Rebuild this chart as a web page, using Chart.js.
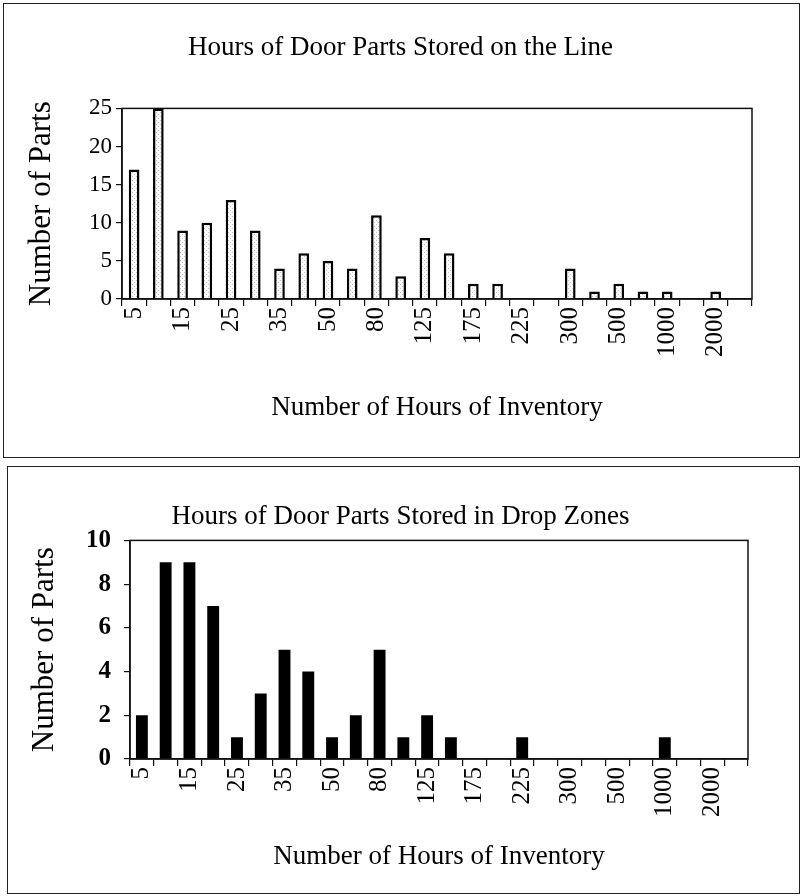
<!DOCTYPE html>
<html>
<head>
<meta charset="utf-8">
<script src="https://cdn.jsdelivr.net/npm/chart.js@4"></script>
<style>
  body { margin: 0; background: #fff; }
  .box { position: absolute; border: 1.5px solid #222; box-sizing: border-box; }
  canvas { position: absolute; left: 0; }
</style>
</head>
<body>
<div class="box" style="left:3px; top:3px; width:797px; height:455px;"></div>
<div class="box" style="left:7px; top:466px; width:793px; height:428px;"></div>
<canvas id="lineChart" width="801" height="457" style="top:0px;"></canvas>
<canvas id="dropChart" width="801" height="426" style="top:467px;"></canvas>
<script>
// histogram bins (hours of inventory); only every other one gets a label
const hourBins = ['5', '10', '15', '20', '25', '30', '35', '40', '50', '60', '80', '100', '125',
    '150', '175', '200', '225', '250', '300', '400', '500', '750', '1000', '1500', '2000', 'More'];
const lineParts = [17, 25, 9, 10, 13, 9, 4, 6, 5, 4, 11, 3, 8, 6, 2, 2, 0, 0, 4, 1, 2, 1, 1, 0, 1, 0];
const dropParts = [2, 9, 9, 7, 1, 3, 5, 4, 1, 2, 5, 1, 2, 1, 0, 0, 1, 0, 0, 0, 0, 0, 1, 0, 0, 0];
const lineTicks = [0, 5, 10, 15, 20, 25];
const dropTicks = [0, 2, 4, 6, 8, 10];

const serif = 'Liberation Serif, Times New Roman, serif';

// light stippled fill like the scanned bars
function stipple() {
    const c = document.createElement('canvas');
    c.width = 4; c.height = 4;
    const g = c.getContext('2d');
    g.fillStyle = '#fdfdfd';
    g.fillRect(0, 0, 4, 4);
    g.fillStyle = '#c4c4c4';
    g.fillRect(0, 0, 1, 1);
    g.fillRect(2, 2, 1, 1);
    return g.createPattern(c, 'repeat');
}

const frame = {
    id: 'frame',
    afterDatasetsDraw(chart) {
        const a = chart.chartArea;
        const ctx = chart.ctx;
        ctx.save();
        ctx.strokeStyle = '#111';
        ctx.lineWidth = 1.5;
        ctx.strokeRect(a.left, a.top, a.right - a.left, a.bottom - a.top);
        ctx.restore();
    }
};

function makeChart(id, opts) {
    return new Chart(document.getElementById(id).getContext('2d'), {
        type: 'bar',
        data: {
            labels: hourBins,
            datasets: [{
                data: opts.data,
                backgroundColor: opts.fill,
                borderColor: '#000',
                borderWidth: opts.border,
                borderSkipped: 'bottom',
                barPercentage: opts.barPct,
                categoryPercentage: 1
            }]
        },
        options: {
            responsive: false,
            animation: false,
            layout: { padding: { left: opts.padSide, right: opts.padSide, top: 0, bottom: 0 } },
            plugins: {
                legend: { display: false },
                tooltip: { enabled: false },
                title: {
                    display: true,
                    text: opts.title,
                    color: '#000',
                    font: { family: serif, size: 27, weight: 'normal' },
                    padding: opts.titlePad
                }
            },
            scales: {
                x: {
                    afterFit: s => { s.height = opts.xHeight; },
                    grid: { offset: true, drawOnChartArea: false, tickLength: 7, color: '#111', lineWidth: 1.2 },
                    border: { color: '#111', width: 1.5 },
                    ticks: {
                        autoSkip: false,
                        maxRotation: 90,
                        minRotation: 90,
                        padding: 1,
                        color: '#000',
                        font: { family: serif, size: 25 },
                        callback: (v, i) => i % 2 === 0 ? hourBins[i] : ''
                    },
                    title: {
                        display: true,
                        text: 'Number of Hours of Inventory',
                        color: '#000',
                        font: { family: serif, size: 27 },
                        padding: { top: 0, bottom: opts.xTitleBottom }
                    }
                },
                y: {
                    min: 0,
                    max: opts.yTicks[opts.yTicks.length - 1],
                    afterFit: s => { s.width = opts.yWidth; },
                    afterBuildTicks: s => { s.ticks = opts.yTicks.map(v => ({ value: v })); },
                    grid: { drawOnChartArea: false, tickLength: 6, color: '#111', lineWidth: 1.2 },
                    border: { color: '#111', width: 1.5 },
                    ticks: {
                        padding: opts.yTickPad,
                        color: '#000',
                        font: { family: serif, size: opts.yTickSize, weight: opts.yBold ? 'bold' : 'normal' }
                    },
                    title: {
                        display: true,
                        text: 'Number of Parts',
                        color: '#000',
                        font: { family: serif, size: 31 },
                        padding: { top: opts.yTitleLeft, bottom: 0 }
                    }
                }
            }
        },
        plugins: [frame]
    });
}

makeChart('lineChart', {
    data: lineParts,
    title: 'Hours of Door Parts Stored on the Line',
    fill: stipple(),
    border: 2.5,
    barPct: 0.44,
    yTicks: lineTicks,
    yBold: false,
    yTickSize: 23,
    yTickPad: 4,
    padSide: 49,
    yWidth: 73,
    xHeight: 158,
    titlePad: { top: 32, bottom: 44 },
    xTitleBottom: 33,
    yTitleLeft: -26
});

makeChart('dropChart', {
    data: dropParts,
    title: 'Hours of Door Parts Stored in Drop Zones',
    fill: '#000',
    border: 0,
    barPct: 0.5,
    yTicks: dropTicks,
    yBold: true,
    yTickSize: 25,
    yTickPad: 13,
    padSide: 53,
    yWidth: 77,
    xHeight: 134,
    titlePad: { top: 34, bottom: 7 },
    xTitleBottom: 20,
    yTitleLeft: -27
});
</script>
</body>
</html>
